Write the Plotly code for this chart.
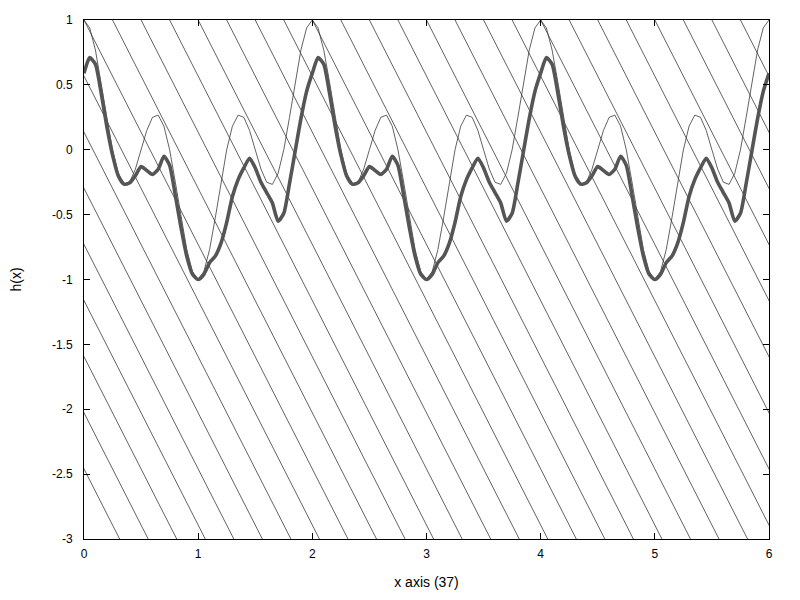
import plotly.graph_objects as go

# sample positions along x (0 .. 6, step 0.05)
X = [round(i * 0.05, 2) for i in range(121)]

# thin curve (period of 2, repeated three times)
THIN = [
    1.0, 0.939, 0.769, 0.524, 0.25, 0.0, -0.182, -0.267, -0.25, -0.149,
    0.0, 0.149, 0.25, 0.267, 0.182, 0.0, -0.25, -0.524, -0.769, -0.939,
    -1.0, -0.939, -0.769, -0.524, -0.25, 0.0, 0.182, 0.267, 0.25, 0.149,
    0.0, -0.149, -0.25, -0.267, -0.182, 0.0, 0.25, 0.524, 0.769, 0.939,
    1.0, 0.939, 0.769, 0.524, 0.25, 0.0, -0.182, -0.267, -0.25, -0.149,
    0.0, 0.149, 0.25, 0.267, 0.182, 0.0, -0.25, -0.524, -0.769, -0.939,
    -1.0, -0.939, -0.769, -0.524, -0.25, 0.0, 0.182, 0.267, 0.25, 0.149,
    0.0, -0.149, -0.25, -0.267, -0.182, 0.0, 0.25, 0.524, 0.769, 0.939,
    1.0, 0.939, 0.769, 0.524, 0.25, 0.0, -0.182, -0.267, -0.25, -0.149,
    0.0, 0.149, 0.25, 0.267, 0.182, 0.0, -0.25, -0.524, -0.769, -0.939,
    -1.0, -0.939, -0.769, -0.524, -0.25, 0.0, 0.182, 0.267, 0.25, 0.149,
    0.0, -0.149, -0.25, -0.267, -0.182, 0.0, 0.25, 0.524, 0.769, 0.939,
    1.0,
]

# thick curve h(x)
THICK = [
    0.59, 0.71, 0.66, 0.44, 0.18, -0.04, -0.20, -0.265, -0.255, -0.20,
    -0.13, -0.16, -0.19, -0.15, -0.05, -0.12, -0.35, -0.60, -0.82, -0.96,
    -1.00, -0.96, -0.87, -0.82, -0.72, -0.56, -0.36, -0.23, -0.14, -0.065,
    -0.14, -0.25, -0.33, -0.41, -0.55, -0.49, -0.26, -0.01, 0.24, 0.45,
    0.59, 0.71, 0.66, 0.44, 0.18, -0.04, -0.20, -0.265, -0.255, -0.20,
    -0.13, -0.16, -0.19, -0.15, -0.05, -0.12, -0.35, -0.60, -0.82, -0.96,
    -1.00, -0.96, -0.87, -0.82, -0.72, -0.56, -0.36, -0.23, -0.14, -0.065,
    -0.14, -0.25, -0.33, -0.41, -0.55, -0.49, -0.26, -0.01, 0.24, 0.45,
    0.59, 0.71, 0.66, 0.44, 0.18, -0.04, -0.20, -0.265, -0.255, -0.20,
    -0.13, -0.16, -0.19, -0.15, -0.05, -0.12, -0.35, -0.60, -0.82, -0.96,
    -1.00, -0.96, -0.87, -0.82, -0.72, -0.56, -0.36, -0.23, -0.14, -0.065,
    -0.14, -0.25, -0.33, -0.41, -0.55, -0.49, -0.26, -0.01, 0.24, 0.45,
    0.59,
]

# background hatch: parallel lines, x where each crosses y = 1, and their slope
HATCH_X0 = [
    -2.0, -1.75, -1.5, -1.25, -1.0, -0.75, -0.5, -0.25,
    0.0, 0.25, 0.5, 0.75, 1.0, 1.25, 1.5, 1.75,
    2.0, 2.25, 2.5, 2.75, 3.0, 3.25, 3.5, 3.75,
    4.0, 4.25, 4.5, 4.75, 5.0, 5.25, 5.5, 5.75, 6.0,
]
HATCH_SLOPE = -1.73

# tick labels (plain hyphen minus, as in the original)
X_TICKS = [0, 1, 2, 3, 4, 5, 6]
X_LABELS = ["0", "1", "2", "3", "4", "5", "6"]
Y_TICKS = [1, 0.5, 0, -0.5, -1, -1.5, -2, -2.5, -3]
Y_LABELS = ["1", "0.5", "0", "-0.5", "-1", "-1.5", "-2", "-2.5", "-3"]

Y_TOP, Y_BOTTOM = 1.0, -3.0

fig = go.Figure()

# hatch lines as one trace, segments separated by None
hx, hy = [], []
for x0 in HATCH_X0:
    hx += [x0, x0 + (Y_BOTTOM - Y_TOP) / HATCH_SLOPE, None]
    hy += [Y_TOP, Y_BOTTOM, None]
fig.add_trace(go.Scatter(x=hx, y=hy, mode="lines",
                         line=dict(color="#3a3a3a", width=0.8),
                         hoverinfo="skip", showlegend=False))

fig.add_trace(go.Scatter(x=X, y=THIN, mode="lines",
                         line=dict(color="#3a3a3a", width=0.8),
                         showlegend=False))

fig.add_trace(go.Scatter(x=X, y=THICK, mode="lines",
                         line=dict(color="#555555", width=3.6, shape="spline", smoothing=0.6),
                         showlegend=False))

axis_common = dict(
    showgrid=False, zeroline=False, automargin=False,
    showline=True, linecolor="black", linewidth=1, mirror="ticks",
    ticks="inside", ticklen=6, tickcolor="black",
    tickfont=dict(family="Liberation Sans, Arial, sans-serif", size=12, color="black"),
)

# the page body adds an 8px offset, so the margins are shifted to compensate
fig.update_layout(
    width=800, height=600,
    margin=dict(l=76, r=39, t=12, b=69),
    plot_bgcolor="white", paper_bgcolor="white",
    font=dict(family="Liberation Sans, Arial, sans-serif", size=12, color="black"),
    xaxis=dict(range=[0, 6], tickvals=X_TICKS, ticktext=X_LABELS, ticklabelstandoff=4,
               title=dict(text="x axis (37)", standoff=16), **axis_common),
    yaxis=dict(range=[-3, 1], tickvals=Y_TICKS, ticktext=Y_LABELS, ticklabelstandoff=8,
               title=dict(text="h(x)", standoff=28), **axis_common),
)

fig.write_html("out.html")
